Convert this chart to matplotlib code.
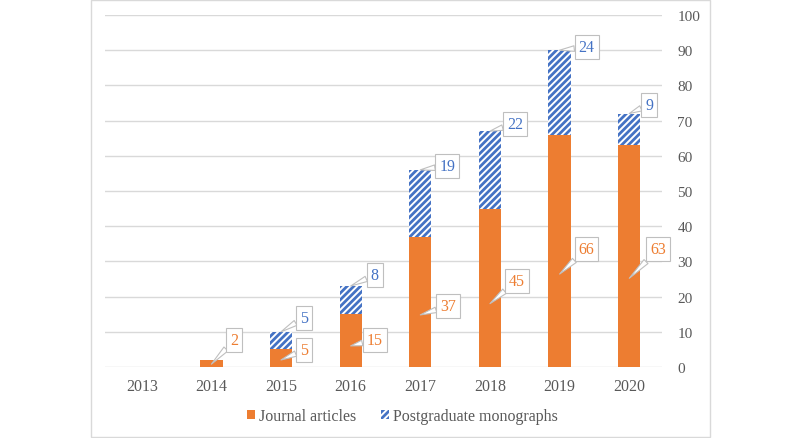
import matplotlib
matplotlib.use("Agg")
import matplotlib.pyplot as plt
from matplotlib.patches import Rectangle
import numpy as np

years = ["2013", "2014", "2015", "2016", "2017", "2018", "2019", "2020"]
journal_articles = [0, 2, 5, 15, 37, 45, 66, 63]
postgrad_monographs = [0, 0, 5, 8, 19, 22, 24, 9]

# callout placement (pixel offsets from the leader start)
journal_offsets = [None, (23, 24), (23, 10), (24, 6), (28, 9), (27, 23), (27, 25), (29, 29)]
postgrad_offsets = [None, None, (23, 14), (24, 11), (27, 4), (25, 7), (27, 3), (20, 9)]

orange = "#ED7D31"
blue = "#4472C4"
grey_text = "#595959"

plt.rcParams["font.family"] = ["Liberation Serif", "DejaVu Serif"]
plt.rcParams["hatch.linewidth"] = 2.0

fig = plt.figure(figsize=(8, 4.39), dpi=100)
ax = fig.add_axes([0.131, 0.1617, 0.6965, 0.8019])

x = np.arange(len(years))
width = 0.32
ax.bar(x, journal_articles, width, color=orange, label="Journal articles", zorder=3)
ax.bar(x, postgrad_monographs, width, bottom=journal_articles, facecolor="white",
       edgecolor=blue, hatch="/////", linewidth=0, label="Postgraduate monographs", zorder=3)

ax.set_xlim(-0.53, 7.47)
ax.set_ylim(0, 100)
ax.set_yticks(range(0, 101, 10))
ax.set_xticks(x)
ax.set_xticklabels(years)
ax.yaxis.tick_right()
ax.tick_params(axis="y", length=0, pad=11, labelsize=11, labelcolor=grey_text)
ax.tick_params(axis="x", length=0, pad=8, labelsize=11.5, labelcolor=grey_text)
for lbl in ax.get_yticklabels():
    lbl.set_horizontalalignment("left")
ax.grid(axis="y", color="#d9d9d9", linewidth=1, zorder=0)
for s in ax.spines.values():
    s.set_visible(False)

def callout(xi, yi, text, offset, color):
    ax.annotate(text, xy=(xi, yi), xytext=offset, textcoords="offset pixels",
                ha="center", va="center", fontsize=11.5, color=color, zorder=5,
                bbox=dict(boxstyle="square,pad=0.25", fc="white", ec="#bfbfbf", lw=0.8),
                arrowprops=dict(arrowstyle="wedge,tail_width=0.35", fc="white",
                                ec="#bfbfbf", lw=0.8, shrinkA=0, shrinkB=0))

for i in range(len(years)):
    if journal_offsets[i] is not None:
        callout(x[i], journal_articles[i] * 0.4, str(journal_articles[i]), journal_offsets[i], orange)
    if postgrad_offsets[i] is not None:
        top = journal_articles[i] + postgrad_monographs[i]
        callout(x[i], top, str(postgrad_monographs[i]), postgrad_offsets[i], blue)

fig.legend(loc="center", bbox_to_anchor=(0.503, 0.05), ncol=2, frameon=False,
           fontsize=11.5, labelcolor=grey_text, handlelength=0.55, handleheight=0.55,
           handletextpad=0.25, columnspacing=1.5)

fig.patches.append(Rectangle((0.114, 0.003), 0.774, 0.994, transform=fig.transFigure,
                             fill=False, edgecolor="#d9d9d9", linewidth=1))

fig.savefig("out.png", dpi=100)
